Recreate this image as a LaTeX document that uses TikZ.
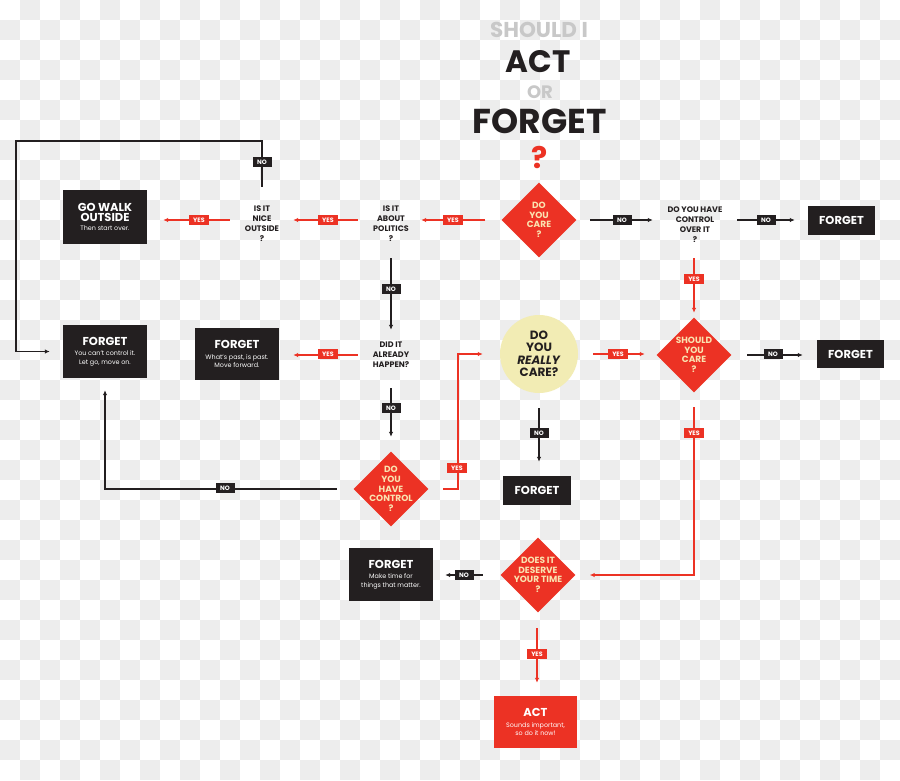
\documentclass[tikz,border=0pt]{standalone}
\usepackage{fontspec}
\setmainfont{Poppins}
\usetikzlibrary{shapes.geometric,arrows.meta}
\definecolor{fred}{RGB}{236,50,36}
\definecolor{fblack}{RGB}{35,31,32}
\definecolor{fcream}{RGB}{250,227,176}
\definecolor{fcircle}{RGB}{242,236,180}
\definecolor{tgray}{RGB}{200,200,200}
\definecolor{chk}{RGB}{237,237,237}
\begin{document}
\begin{tikzpicture}[x=1pt,y=-1pt,
  ln/.style={line width=1.9pt,-{Latex[length=5pt,width=4.5pt]}},
  blk/.style={ln,draw=fblack},
  rd/.style={ln,draw=fred},
  lab/.style={inner sep=0pt,minimum width=19pt,minimum height=9.5pt,text=white,font=\fontsize{6.3}{6.3}\selectfont\bfseries},
  ylab/.style={lab,fill=fred,minimum width=20pt},
  nlab/.style={lab,fill=fblack},
  dia/.style={diamond,fill=fred,minimum width=75pt,minimum height=75pt,inner sep=0pt,aspect=1},
  dtext/.style={text=fcream,align=center,inner sep=0pt,font=\fontsize{9}{9.6}\selectfont\bfseries},
  qtext/.style={align=center,inner sep=0pt,text=fblack,font=\fontsize{8}{10}\selectfont\bfseries},
  box/.style={fill=fblack,text=white,align=center,inner sep=0pt,font=\fontsize{6.4}{8.4}\selectfont},
  abox/.style={box,fill=fred},
  ttl/.style={anchor=base,inner sep=0pt,font=\bfseries}
]
\newcommand\bxt[1]{{\bfseries\fontsize{11.5}{12}\selectfont #1}}
% background checkerboard
\begin{scope}
\clip (0,0) rectangle (900,780);
\fill[white] (0,0) rectangle (900,780);
\foreach \j in {0,...,38}{
  \pgfmathtruncatemacro\off{mod(\j+1,2)}
  \foreach \i in {0,2,...,44}{
    \fill[chk] ({(\i+\off)*20},{\j*20}) rectangle ++(20,20);
  }
}
\end{scope}
\useasboundingbox (0,0) rectangle (900,780);

% title
\node[ttl,text=tgray,font=\fontsize{21.5}{21.5}\selectfont\bfseries] (t1) at (539,37.5) {SHOULD I};
\node[ttl,text=fblack,font=\fontsize{31}{31}\selectfont\bfseries] (t2) at (538,72) {ACT};
\node[ttl,text=tgray,font=\fontsize{18}{18}\selectfont\bfseries] (t3) at (540,98.5) {OR};
\node[ttl,text=fblack,font=\fontsize{34.5}{34.5}\selectfont\bfseries] (t4) at (539.5,133) {FORGET};
\node[ttl,text=fred,font=\fontsize{30}{30}\selectfont\bfseries] (t5) at (540,168) {?};

% decisions
\node[dia,label={[dtext]center:{DO\\YOU\\CARE\\?}}] (care) at (539,220) {};
\node[dia,label={[dtext]center:{SHOULD\\YOU\\CARE\\?}}] (sc) at (694,355) {};
\node[dia,label={[dtext]center:{DO\\YOU\\HAVE\\CONTROL\\?}}] (hc) at (391,489) {};
\node[dia,label={[dtext]center:{DOES IT\\DESERVE\\YOUR TIME\\?}}] (des) at (538,575) {};
\node[circle,fill=fcircle,minimum size=78pt,inner sep=0pt,align=center,text=fblack,font=\fontsize{12}{12.5}\selectfont\bfseries] (really) at (539,354) {DO\\YOU\\\textit{REALLY}\\CARE?};

% question texts
\node[qtext,minimum width=62pt,minimum height=74pt] (nice) at (262,224) {IS IT\\NICE\\OUTSIDE\\?};
\node[qtext,minimum width=60pt,minimum height=68pt] (pol) at (391,224) {IS IT\\ABOUT\\POLITICS\\?};
\node[qtext,minimum width=66pt,minimum height=50pt] (did) at (391,355) {DID IT\\ALREADY\\HAPPEN?};
\node[qtext,minimum width=84pt,minimum height=66pt] (co) at (695,225) {DO YOU HAVE\\CONTROL\\OVER IT\\?};

% outcome boxes
\node[box,minimum width=84pt,minimum height=54pt] (walk) at (105,217) {\bxt{GO WALK}\\[2pt]\bxt{OUTSIDE}\\[1pt]Then start over.};
\node[box,minimum width=84pt,minimum height=53pt] (f1) at (105,351.5) {\bxt{FORGET}\\[2pt]You can't control it.\\Let go, move on.};
\node[box,minimum width=84pt,minimum height=52pt] (fP) at (237,354) {\bxt{FORGET}\\[2pt]What's past, is past.\\Move forward.};
\node[box,minimum width=67pt,minimum height=29pt] (fA) at (841.5,220.5) {\bxt{FORGET}};
\node[box,minimum width=67pt,minimum height=28pt] (fB) at (850.5,354) {\bxt{FORGET}};
\node[box,minimum width=68pt,minimum height=29pt] (fC) at (537,490.5) {\bxt{FORGET}};
\node[box,minimum width=84pt,minimum height=53pt] (fT) at (391,574.5) {\bxt{FORGET}\\[2pt]Make time for\\things that matter.};
\node[abox,minimum width=83pt,minimum height=52pt] (act) at (535.5,722) {\bxt{ACT}\\[2pt]Sounds important,\\so do it now!};

% connectors
\draw[rd,shorten <=16] (care.west) -- (care.west -| pol.east);
\draw[rd,shorten <=3] (pol.west |- care.west) -- (nice.east |- care.west);
\draw[rd,shorten <=1,shorten >=16] (nice.west |- care.west) -- (walk.east |- care.west);
\draw[blk,shorten >=13] (nice.north) |- (16,141) |- (f1.west);
\draw[blk,shorten <=13.5] (care.east) -- (care.east -| co.west);
\draw[blk,shorten >=13] (co.east |- care.east) -- (fA.west |- care.east);
\draw[rd,shorten >=4.5] (sc.north |- co.south) -- (sc.north);
\draw[rd,shorten <=15,shorten >=11.5] (really.east) -- (really.east -| sc.west);
\draw[blk,shorten <=15.5,shorten >=14] (sc.east) -- (sc.east -| fB.west);
\draw[rd,shorten <=14.5,shorten >=14] (sc.south) |- (des.east);
\draw[blk] (pol.south) -- (did.north);
\draw[rd,shorten >=14] (did.west) -- (fP.east |- did.west);
\draw[blk,shorten <=8,shorten >=14.5] (did.south) -- (hc.north);
\draw[blk,shorten <=16.5,shorten >=12] (hc.west) -| (f1.south);
\draw[rd,shorten <=14.5,shorten >=17] (hc.east) -- ++(29.5,0) |- (really.west);
\draw[blk,shorten <=15,shorten >=14] (really.south) -- (really.south |- fC.north);
\draw[blk,shorten <=17.5,shorten >=12] (des.west) -- (fT.east |- des.west);
\draw[rd,shorten <=15.5,shorten >=13] ([xshift=-1pt]des.south) -- ([xshift=-1pt]des.south |- act.north);

% labels
\node[ylab] (y1) at (453,220) {YES};
\node[ylab] (y2) at (328,220) {YES};
\node[ylab] (y3) at (199,220) {YES};
\node[nlab] (n1) at (262,162) {NO};
\node[nlab] (n2) at (622,220) {NO};
\node[nlab] (n3) at (766,220) {NO};
\node[ylab] (y4) at (694,279) {YES};
\node[ylab] (y5) at (618,354) {YES};
\node[nlab] (n4) at (773,354) {NO};
\node[ylab] (y6) at (694,433) {YES};
\node[nlab] (n5) at (391,289) {NO};
\node[ylab] (y7) at (328,354) {YES};
\node[nlab] (n6) at (391,408) {NO};
\node[nlab] (n7) at (225,488) {NO};
\node[ylab] (y8) at (457,468) {YES};
\node[nlab] (n8) at (539,433) {NO};
\node[nlab] (n9) at (464,575) {NO};
\node[ylab] (y9) at (537,654) {YES};
\end{tikzpicture}
\end{document}
